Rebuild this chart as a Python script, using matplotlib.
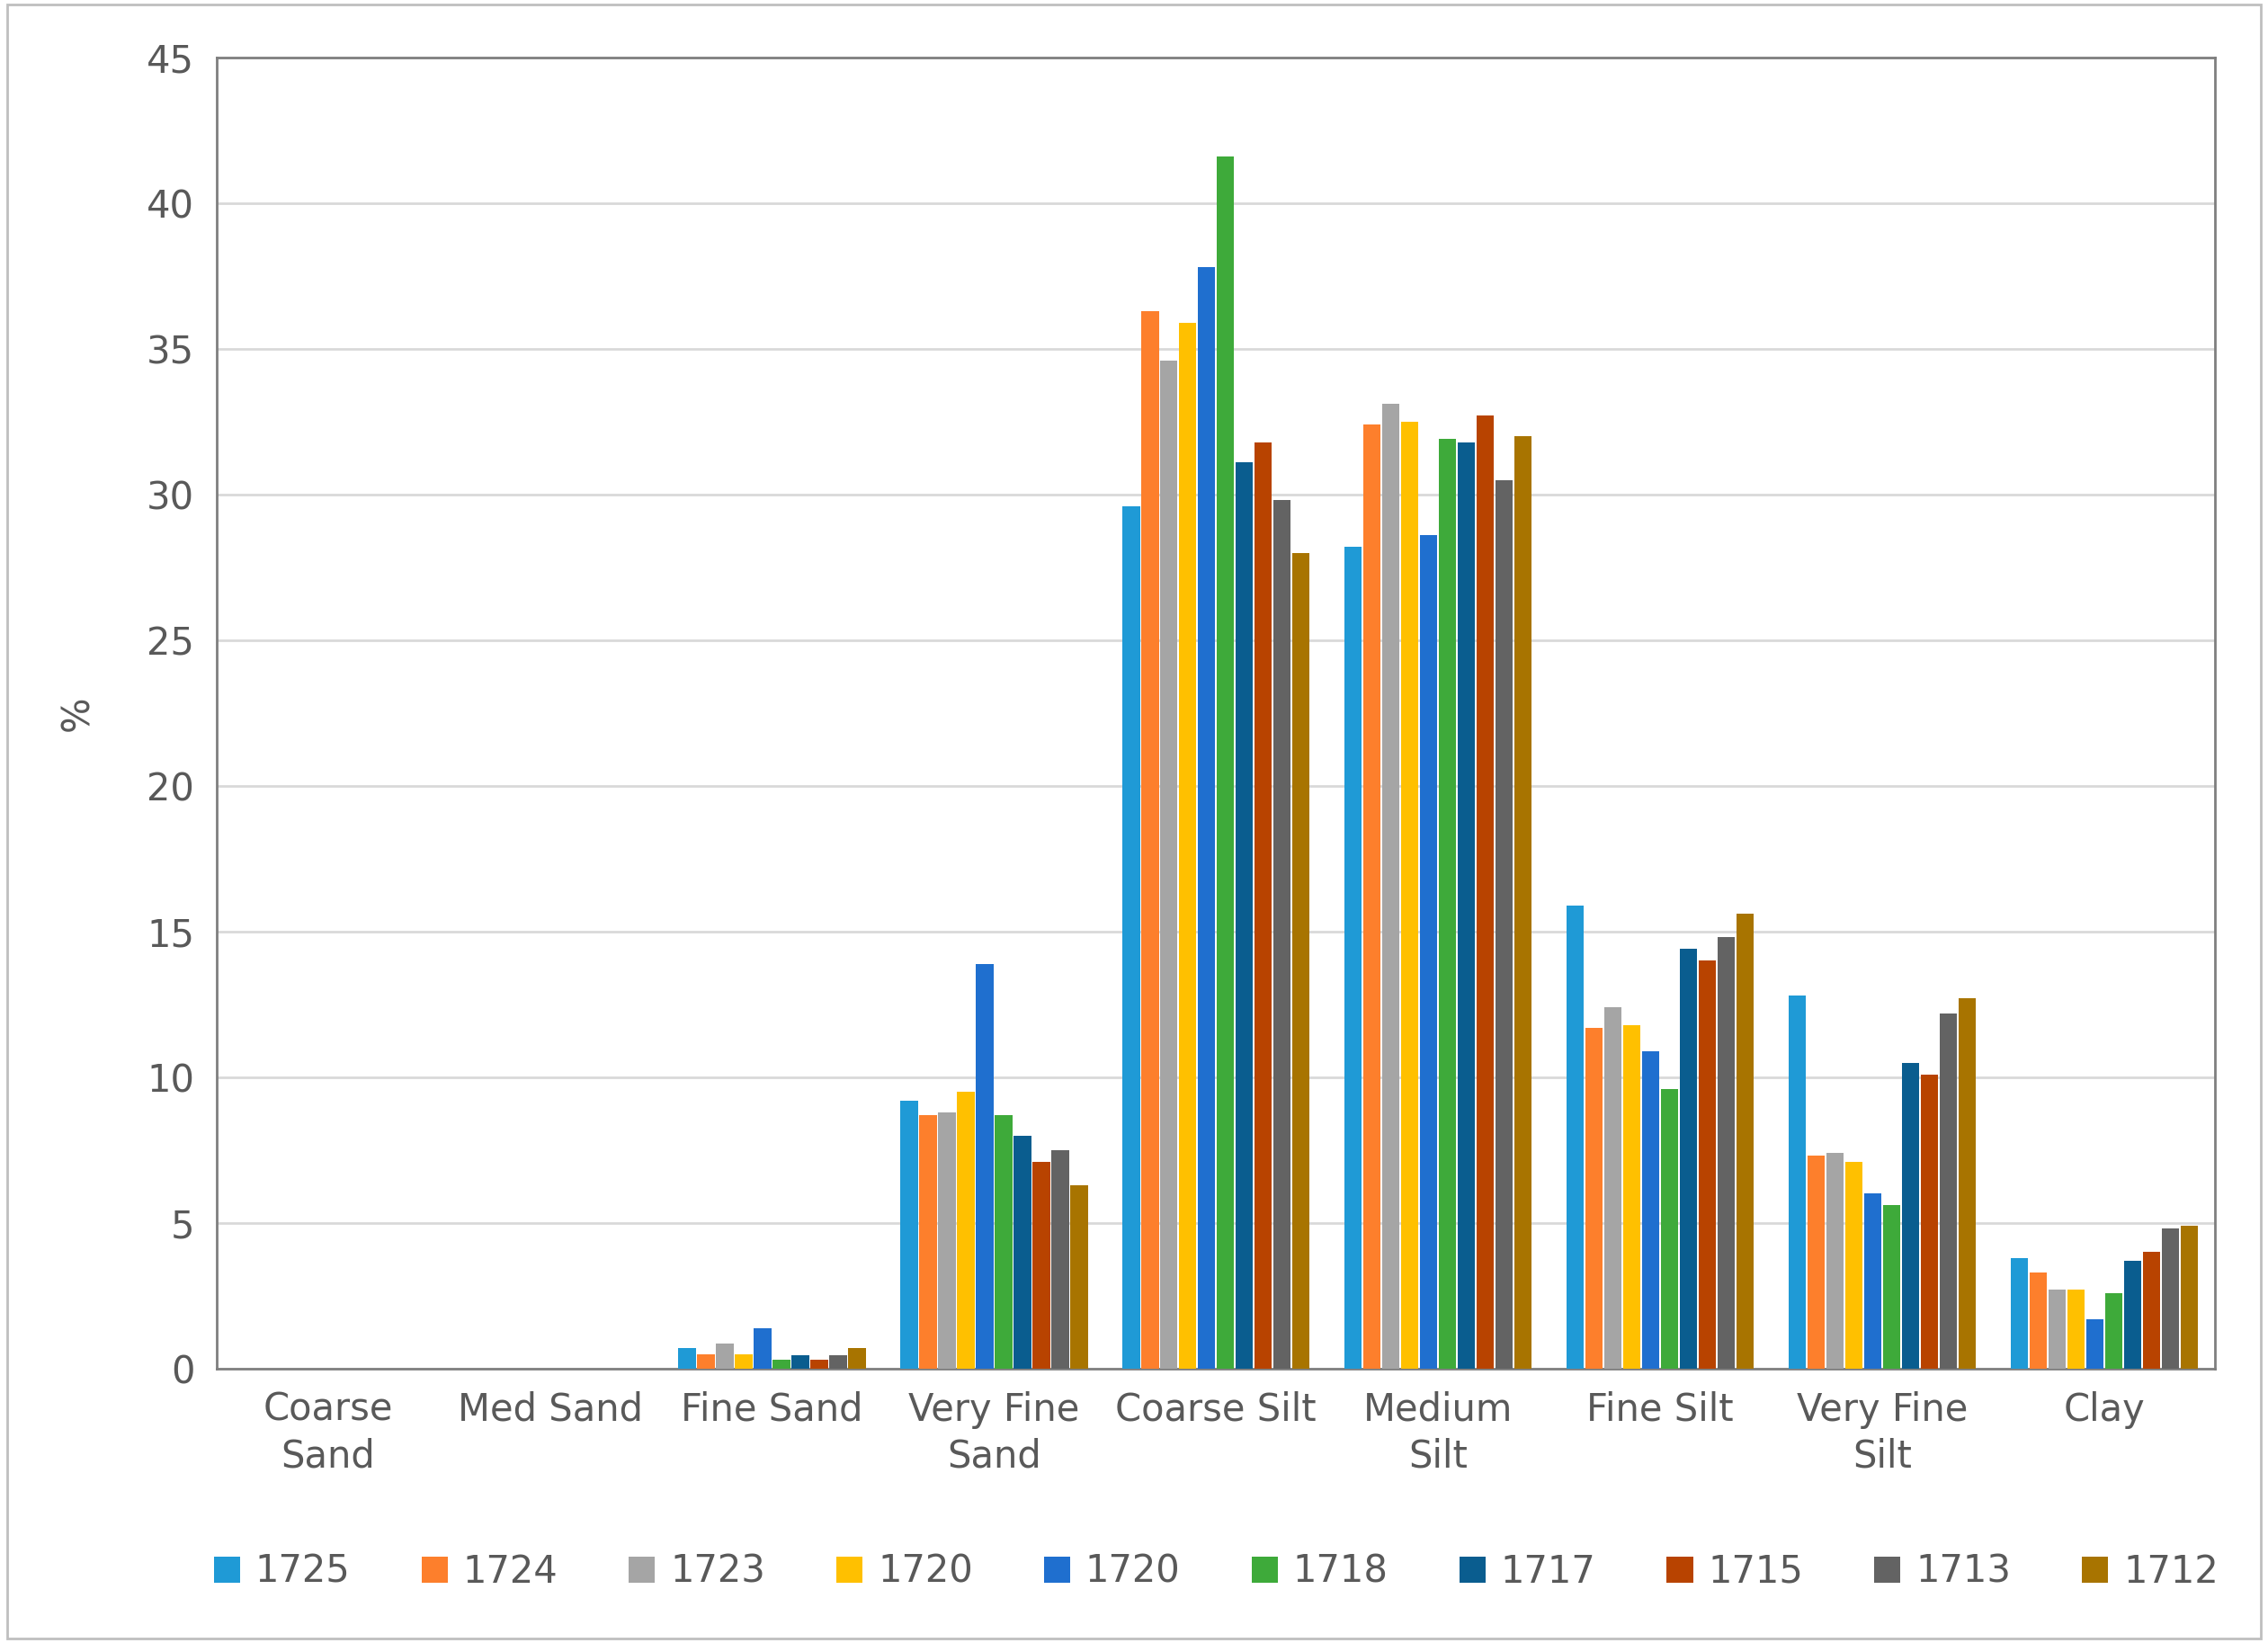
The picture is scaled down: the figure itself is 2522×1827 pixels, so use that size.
import matplotlib
matplotlib.use("Agg")
import matplotlib.pyplot as plt
import numpy as np

categories = ["Coarse\nSand", "Med Sand", "Fine Sand", "Very Fine\nSand", "Coarse Silt",
              "Medium\nSilt", "Fine Silt", "Very Fine\nSilt", "Clay"]
series_names = ["1725", "1724", "1723", "1720", "1720", "1718", "1717", "1715", "1713", "1712"]
values = [
    [0, 0, 0.7, 9.2, 29.6, 28.2, 15.9, 12.8, 3.8],
    [0, 0, 0.5, 8.7, 36.3, 32.4, 11.7, 7.3, 3.3],
    [0, 0, 0.85, 8.8, 34.6, 33.1, 12.4, 7.4, 2.7],
    [0, 0, 0.5, 9.5, 35.9, 32.5, 11.8, 7.1, 2.7],
    [0, 0, 1.4, 13.9, 37.8, 28.6, 10.9, 6.0, 1.7],
    [0, 0, 0.3, 8.7, 41.6, 31.9, 9.6, 5.6, 2.6],
    [0, 0, 0.45, 8.0, 31.1, 31.8, 14.4, 10.5, 3.7],
    [0, 0, 0.3, 7.1, 31.8, 32.7, 14.0, 10.1, 4.0],
    [0, 0, 0.45, 7.5, 29.8, 30.5, 14.8, 12.2, 4.8],
    [0, 0, 0.7, 6.3, 28.0, 32.0, 15.6, 12.7, 4.9],
]
colors = ["#1f9ad6", "#fd7f2c", "#a5a5a5", "#ffc000", "#1f6fcf",
          "#3eaa3a", "#0a5d8f", "#b84300", "#636363", "#a87400"]

fig = plt.figure(figsize=(25.22, 18.27), dpi=100)
fig.patches.append(plt.Rectangle((0.003, 0.003), 0.994, 0.994, transform=fig.transFigure,
                                 fill=False, edgecolor="#bfbfbf", linewidth=2))
ax = fig.add_axes([0.0957, 0.167, 0.881, 0.798])
x = np.arange(len(categories))
n = len(series_names)
w = 0.85 / n
for i in range(n):
    ax.bar(x - 0.425 + w * (i + 0.5), values[i], width=w * 0.92, color=colors[i],
           label=series_names[i], zorder=3)
ax.set_xlim(-0.5, len(categories) - 0.5)
ax.set_ylim(0, 45)
ax.set_yticks(range(0, 46, 5))
ax.yaxis.grid(True, color="#d9d9d9", linewidth=2, zorder=0)
for s in ax.spines.values():
    s.set_color("#7f7f7f")
    s.set_linewidth(2)
ax.tick_params(axis="both", length=0, labelsize=30, labelcolor="#595959", pad=18)
ax.set_xticks(x)
ax.set_xticklabels(categories, linespacing=1.3)
ax.set_ylabel("%", fontsize=30, color="#595959", labelpad=40)
ax.legend(loc="center", bbox_to_anchor=(0.5, -0.155), ncol=10, frameon=False,
          fontsize=30, labelcolor="#595959", handlelength=0.7, handleheight=0.7,
          columnspacing=1.9, handletextpad=0.4)
fig.savefig("out.png", dpi=100)
